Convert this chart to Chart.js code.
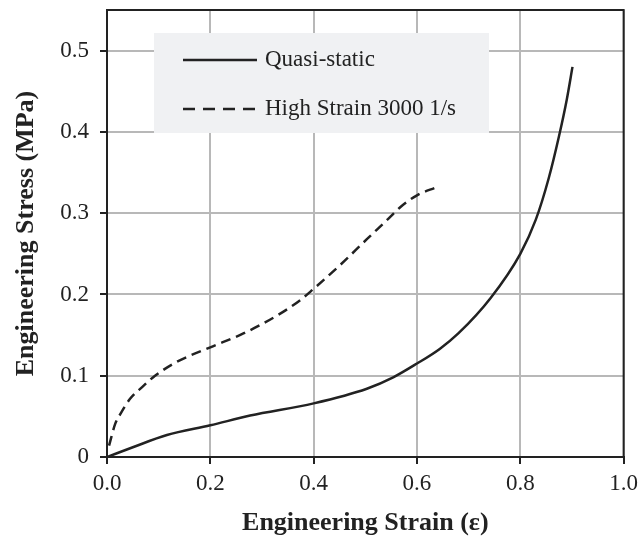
<!DOCTYPE html>
<html>
<head>
<meta charset="utf-8">
<script src="https://cdn.jsdelivr.net/npm/chart.js@4"></script>
<style>
  html, body { margin: 0; padding: 0; background: #fff; }
  #wrap { width: 644px; height: 542px; }
</style>
</head>
<body>
<div id="wrap"><canvas id="stressChart"></canvas></div>
<script>
// values (strain, stress in MPa)
const quasiStrain = [0, 0.05, 0.116, 0.2, 0.277, 0.4, 0.503, 0.554, 0.6, 0.644, 0.68, 0.743, 0.8, 0.83, 0.855, 0.875, 0.89, 0.901];
const quasiStress = [0, 0.012, 0.027, 0.039, 0.051, 0.066, 0.084, 0.098, 0.115, 0.133, 0.152, 0.196, 0.25, 0.292, 0.343, 0.395, 0.44, 0.48];

const highStrain = [0.004, 0.016, 0.026, 0.045, 0.068, 0.093, 0.135, 0.2, 0.264, 0.329, 0.374, 0.4, 0.451, 0.503, 0.541, 0.567, 0.6, 0.638];
const highStress = [0.014, 0.041, 0.053, 0.072, 0.086, 0.1, 0.117, 0.135, 0.152, 0.174, 0.193, 0.207, 0.236, 0.268, 0.291, 0.307, 0.322, 0.332];

const xTicks = [0, 0.2, 0.4, 0.6, 0.8, 1.0];
const yTicks = [0, 0.1, 0.2, 0.3, 0.4, 0.5];
const seriesNames = ['Quasi-static', 'High Strain 3000 1/s'];

const serif = "'Liberation Serif', 'Times New Roman', serif";
const ink = '#222';

function toPoints(xs, ys) {
  return xs.map((x, i) => ({ x: x, y: ys[i] }));
}

// legend box inside the plot + black frame round the plot area
const frameAndLegend = {
  id: 'frameAndLegend',
  beforeDatasetsDraw(chart) {
    const ctx = chart.ctx;
    ctx.save();
    ctx.fillStyle = '#f0f1f3';
    ctx.fillRect(154, 33, 335, 100);
    ctx.strokeStyle = ink;
    ctx.lineWidth = 2.5;
    ctx.beginPath();
    ctx.moveTo(183, 60);
    ctx.lineTo(257, 60);
    ctx.stroke();
    ctx.setLineDash([12, 8]);
    ctx.beginPath();
    ctx.moveTo(183, 109);
    ctx.lineTo(257, 109);
    ctx.stroke();
    ctx.setLineDash([]);
    ctx.fillStyle = ink;
    ctx.font = '23px ' + serif;
    ctx.textBaseline = 'middle';
    ctx.fillText(seriesNames[0], 265, 60);
    ctx.fillText(seriesNames[1], 265, 109);
    ctx.restore();
  },
  afterDatasetsDraw(chart) {
    const a = chart.chartArea;
    const ctx = chart.ctx;
    ctx.save();
    ctx.strokeStyle = ink;
    ctx.lineWidth = 2;
    ctx.strokeRect(a.left, a.top, a.right - a.left, a.bottom - a.top);
    ctx.restore();
  }
};

new Chart(document.getElementById('stressChart'), {
  type: 'scatter',
  data: {
    datasets: [
      {
        label: seriesNames[0],
        data: toPoints(quasiStrain, quasiStress),
        showLine: true,
        borderColor: ink,
        borderWidth: 2.5,
        pointRadius: 0,
        cubicInterpolationMode: 'monotone'
      },
      {
        label: seriesNames[1],
        data: toPoints(highStrain, highStress),
        showLine: true,
        borderColor: ink,
        borderWidth: 2.5,
        borderDash: [10, 6],
        pointRadius: 0,
        cubicInterpolationMode: 'monotone'
      }
    ]
  },
  plugins: [frameAndLegend],
  options: {
    responsive: true,
    maintainAspectRatio: false,
    animation: false,
    layout: { padding: { left: 0, right: 20, top: 10, bottom: 0 } },
    plugins: {
      legend: { display: false },
      tooltip: { enabled: false }
    },
    scales: {
      x: {
        type: 'linear',
        min: 0,
        max: 1,
        afterBuildTicks: axis => { axis.ticks = xTicks.map(v => ({ value: v })); },
        afterFit: axis => { axis.height = 85; },
        grid: { color: '#b8b8b8', lineWidth: 2, tickLength: 7, tickColor: ink, tickWidth: 2 },
        border: { color: ink, width: 2 },
        ticks: {
          color: ink,
          font: { family: serif, size: 23 },
          padding: 6,
          callback: v => v.toFixed(1)
        },
        title: {
          display: true,
          text: 'Engineering Strain (ε)',
          color: ink,
          font: { family: serif, size: 26, weight: 'bold' },
          padding: { top: 0, bottom: 3 }
        }
      },
      y: {
        type: 'linear',
        min: 0,
        max: 0.55,
        afterBuildTicks: axis => { axis.ticks = yTicks.map(v => ({ value: v })); },
        afterFit: axis => {
          axis.width = 107;
          axis.paddingTop = 0;
          axis.paddingBottom = 0;
        },
        grid: { color: '#b8b8b8', lineWidth: 2, tickLength: 7, tickColor: ink, tickWidth: 2 },
        border: { color: ink, width: 2 },
        ticks: {
          color: ink,
          font: { family: serif, size: 23 },
          padding: 11,
          callback: v => (v === 0 ? '0' : v.toFixed(1))
        },
        title: {
          display: true,
          text: 'Engineering Stress (MPa)',
          color: ink,
          font: { family: serif, size: 26, weight: 'bold' },
          padding: { top: 11, bottom: 0 }
        }
      }
    }
  }
});
</script>
</body>
</html>
